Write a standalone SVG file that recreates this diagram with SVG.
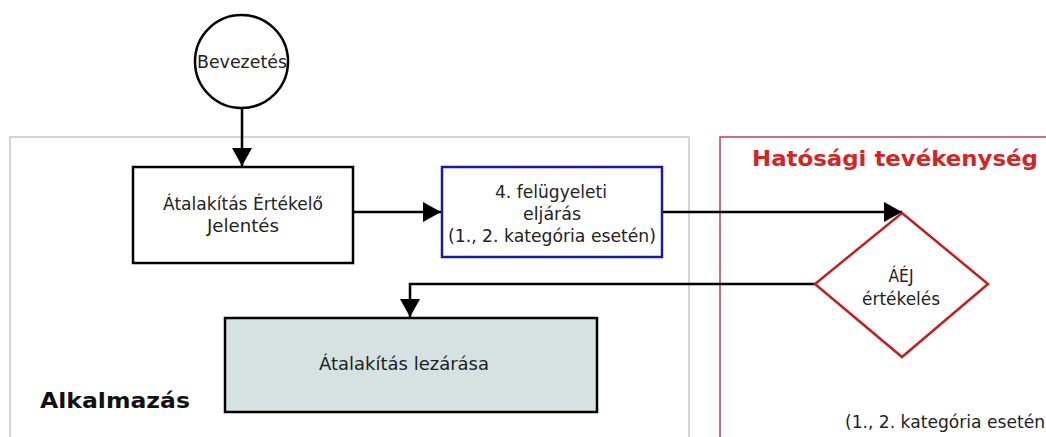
<svg xmlns="http://www.w3.org/2000/svg" width="1046" height="437" viewBox="0 0 1046 437">
<defs>
<style>
.t{font-family:"DejaVu Sans","Liberation Sans",sans-serif;font-size:17px;fill:#222;text-anchor:middle}
.box{fill:#fff;stroke:#000;stroke-width:2.5}
.conn{fill:none;stroke:#000;stroke-width:2.5}
</style>
<marker id="ah" markerUnits="userSpaceOnUse" markerWidth="20" markerHeight="20" refX="18" refY="10" orient="auto" viewBox="0 0 20 20">
<path d="M0,0 L18,10 L0,20 z" fill="#000"/>
</marker>
</defs>
<rect width="1046" height="437" fill="#fff"/>
<g id="lane-alkalmazas">
<rect x="10" y="137" width="679" height="330" fill="none" stroke="#c8c8c8" stroke-width="1.5"/>
<text x="40" y="408" font-family="DejaVu Sans, Liberation Sans, sans-serif" font-weight="bold" font-size="22" fill="#111" textLength="150" lengthAdjust="spacingAndGlyphs">Alkalmazás</text>
</g>
<g id="lane-hatosagi">
<rect x="720" y="137" width="360" height="330" fill="none" stroke="#c04050" stroke-width="1.5"/>
<text x="752" y="166" font-family="DejaVu Sans, Liberation Sans, sans-serif" font-weight="bold" font-size="22" fill="#d42525" textLength="286" lengthAdjust="spacingAndGlyphs">Hatósági tevékenység</text>
<text class="t" x="845" y="428" style="text-anchor:start" textLength="200" lengthAdjust="spacingAndGlyphs">(1., 2. kategória esetén</text>
</g>
<g id="connectors">
<path class="conn" d="M242,108 L242,166" marker-end="url(#ah)"/>
<path class="conn" d="M353,212 L441,212" marker-end="url(#ah)"/>
<path class="conn" d="M662,212 L902,212" marker-end="url(#ah)"/>
<path class="conn" d="M815,284 L410,284 L410,317" marker-end="url(#ah)"/>
</g>
<g id="node-bevezetes">
<circle cx="241.5" cy="61.5" r="46.5" fill="#fff" stroke="#000" stroke-width="2.5"/>
<text class="t" x="242" y="68" textLength="90" lengthAdjust="spacingAndGlyphs">Bevezetés</text>
</g>
<g id="node-aej-jelentes">
<rect class="box" x="133" y="167" width="220" height="96"/>
<text class="t" x="243" y="210" textLength="160" lengthAdjust="spacingAndGlyphs">Átalakítás Értékelő</text>
<text class="t" x="243" y="232" textLength="72" lengthAdjust="spacingAndGlyphs">Jelentés</text>
</g>
<g id="node-felugyeleti">
<rect x="442" y="167" width="220" height="90" fill="#fff" stroke="#1a1aaa" stroke-width="2.5"/>
<text class="t" x="551" y="198" textLength="112" lengthAdjust="spacingAndGlyphs">4. felügyeleti</text>
<text class="t" x="552" y="220" textLength="58" lengthAdjust="spacingAndGlyphs">eljárás</text>
<text class="t" x="552" y="242" textLength="208" lengthAdjust="spacingAndGlyphs">(1., 2. kategória esetén)</text>
</g>
<g id="node-aej-ertekeles">
<polygon points="902,213 988,284 902,357 815,284" fill="#fff" stroke="#c02020" stroke-width="2.5"/>
<text class="t" x="901" y="282" textLength="25" lengthAdjust="spacingAndGlyphs">ÁÉJ</text>
<text class="t" x="901" y="305" textLength="78" lengthAdjust="spacingAndGlyphs">értékelés</text>
</g>
<g id="node-lezarasa">
<rect x="225" y="318" width="372" height="94" fill="#d6e1e1" stroke="#000" stroke-width="2.5"/>
<text class="t" x="404" y="370" textLength="170" lengthAdjust="spacingAndGlyphs">Átalakítás lezárása</text>
</g>
</svg>
